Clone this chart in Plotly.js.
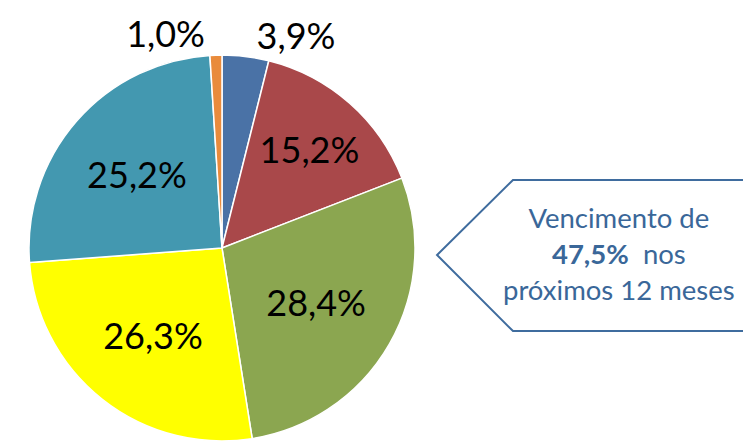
<!DOCTYPE html>
<html><head><meta charset="utf-8">
<script src="https://cdn.plot.ly/plotly-3.0.1.min.js"></script>
<style>html,body{margin:0;padding:0;background:#fff}#chart{width:743px;height:446px}</style>
</head><body><div id="chart"></div>
<script>
const categories = ['A', 'B', 'C', 'D', 'E', 'F'];
const values = [3.9, 15.2, 28.4, 26.3, 25.2, 1.0];
const sliceColors = ['#4a72a6', '#a9484a', '#8ba650', '#ffff00', '#4398b0', '#e98b3c'];
const labelPositions = ['outside', 'inside', 'inside', 'inside', 'inside', 'outside'];
const calloutLines = ['Vencimento de', '<b>47,5%</b>&nbsp; nos', 'próximos 12 meses'];

const W = 743, H = 446;
const trace = {
  type: 'pie',
  labels: categories,
  values: values,
  sort: false,
  direction: 'clockwise',
  rotation: 0,
  marker: {colors: sliceColors, line: {color: '#ffffff', width: 1.5}},
  text: values.map(v => v.toFixed(1).replace('.', ',') + '%'),
  textinfo: 'text',
  textposition: labelPositions,
  insidetextorientation: 'horizontal',
  textfont: {family: 'Lato, sans-serif', size: 36, color: '#000000'},
  outsidetextfont: {family: 'Lato, sans-serif', size: 36, color: '#000000'},
  showlegend: false,
  hoverinfo: 'none',
  domain: {x: [29 / W, 415 / W], y: [1 - 441 / H, 1 - 55 / H]}
};

function px(x) { return (x / W).toFixed(4); }
function py(y) { return (1 - y / H).toFixed(4); }
const calloutPath = 'M ' + px(760) + ',' + py(180) + ' L ' + px(513) + ',' + py(180) +
  ' L ' + px(437) + ',' + py(255) + ' L ' + px(513) + ',' + py(331) + ' L ' + px(760) + ',' + py(331);

const layout = {
  width: W, height: H,
  margin: {l: 0, r: 0, t: 0, b: 0},
  paper_bgcolor: '#ffffff',
  plot_bgcolor: '#ffffff',
  shapes: [{type: 'path', xref: 'paper', yref: 'paper', path: calloutPath,
            line: {color: '#3f6c9e', width: 2}, fillcolor: 'rgba(0,0,0,0)'}],
  annotations: [{
    xref: 'paper', yref: 'paper', x: 619 / W, y: 1 - 253 / H,
    xanchor: 'center', yanchor: 'middle', showarrow: false, align: 'center',
    text: calloutLines.join('<br>'),
    font: {family: 'Lato, sans-serif', size: 27.5, color: '#3a6799'}
  }]
};

Plotly.newPlot('chart', [trace], layout, {displayModeBar: false, staticPlot: true});
</script></body></html>
